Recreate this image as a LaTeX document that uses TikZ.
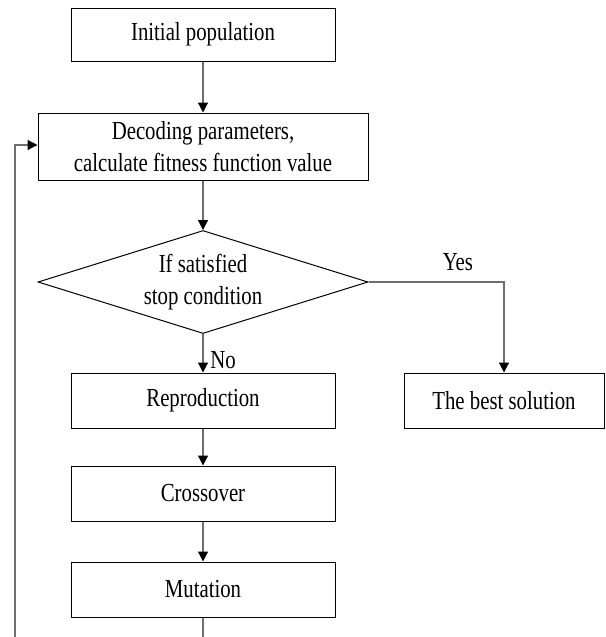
\documentclass[tikz,border=0pt]{standalone}
\usepackage{fontspec}
\setmainfont{Liberation Serif}[FakeStretch=0.8]
\usepackage{tikz}
\usetikzlibrary{arrows.meta, shapes.geometric, positioning}
\definecolor{linegray}{RGB}{110,110,110}

\begin{document}
\begin{tikzpicture}[x=0.5pt, y=-0.5pt,
  font=\fontsize{13}{16}\selectfont,
  box/.style={draw, line width=0.5pt, minimum width=132pt, minimum height=27.5pt, align=center, inner sep=0pt},
  cond/.style={draw, diamond, aspect=3.2, line width=0.5pt, minimum width=165pt, minimum height=51.5pt, align=center, inner sep=0pt},
  flow/.style={draw=linegray, line width=0.6pt, -{Triangle[length=5pt, width=5pt, color=black]}}]
\useasboundingbox (0,0) rectangle (605,637);
\node[box, minimum height=26.5pt] (init) at (203,34.5) {Initial population};
\node[box, minimum width=165pt, minimum height=33.5pt] (decode) at (203,146.5) {Decoding parameters,\\calculate fitness function value};
\node[cond] (check) at (203,282) {If satisfied\\stop condition};
\node[box, minimum width=100pt] (best) at (504,400.5) {The best solution};
\foreach \n/\t/\y in {repro/Reproduction/400.5, cross/Crossover/493.5, mutate/Mutation/589.5}
  \node[box] (\n) at (203,\y) {\t};
\coordinate (loopend) at (15,660);

\draw[flow] (init) -- (decode);
\draw[flow] (decode) -- (check);
\draw[flow] (check.east) -| (best.north) node[pos=0.33, above=2pt] {Yes};
\draw[flow] (check.south) -- (repro.north) node[pos=0.68, right=0pt] {No};
\draw[flow] (repro) -- (cross);
\draw[flow] (cross) -- (mutate);
% loop back to evaluation
\draw[flow] (mutate.south) |- (loopend) |- ([yshift=0.75pt]decode.west);
\end{tikzpicture}
\end{document}
